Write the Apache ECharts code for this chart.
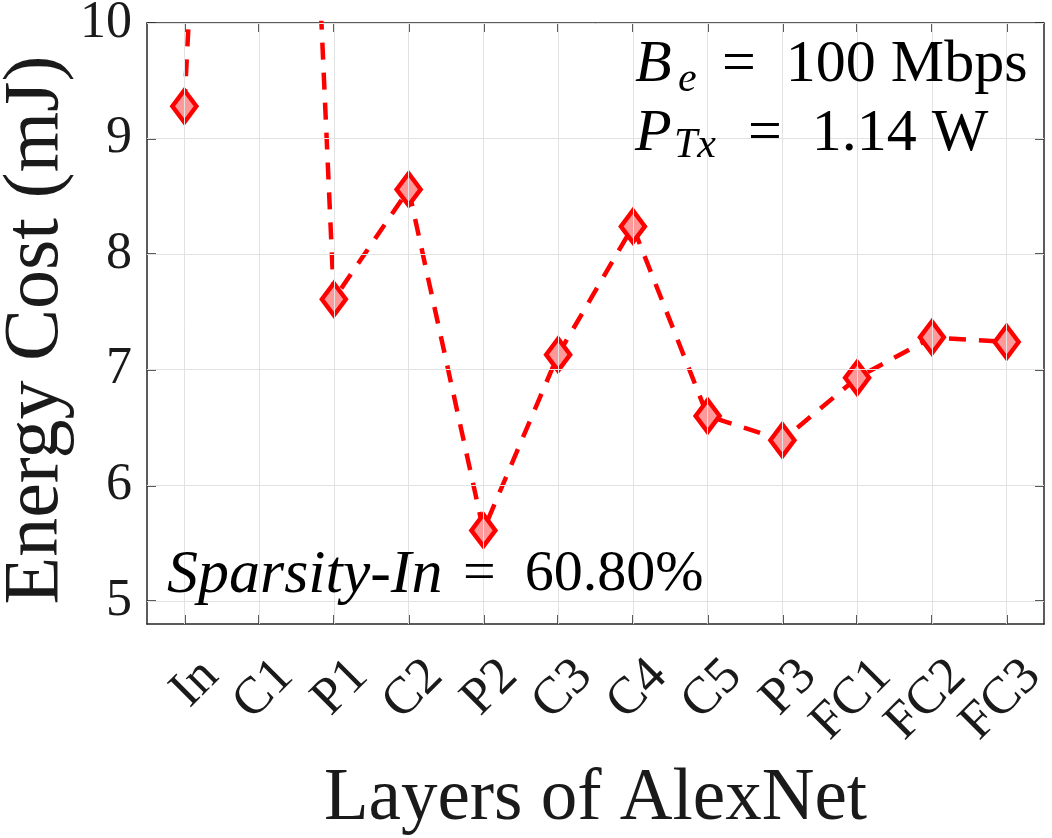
<!DOCTYPE html>
<html>
<head>
<meta charset="utf-8">
<script src="https://cdn.jsdelivr.net/npm/echarts@6/dist/echarts.min.js"></script>
<style>
    html, body { margin: 0; padding: 0; background: #fff; }
    #chart { width: 1052px; height: 838px; }
</style>
</head>
<body>
<div id="chart"></div>
<script>
// data
var layers = ['In', 'C1', 'P1', 'C2', 'P2', 'C3', 'C4', 'C5', 'P3', 'FC1', 'FC2', 'FC3'];
var energy = [9.28, 22.0, 7.61, 8.56, 5.61, 7.13, 8.24, 6.60, 6.39, 6.93, 7.28, 7.24];
var yTicks = [5, 6, 7, 8, 9, 10];

var serif = 'Liberation Serif';
var axisColor = '#262626';
var chart = echarts.init(document.getElementById('chart'));

// grid lines (matlab style: on ticks, category centres)
var gridLines = [];
layers.forEach(function (c) { gridLines.push({ xAxis: c }); });
yTicks.forEach(function (v) { gridLines.push({ yAxis: v }); });

var axisLine = { show: true, lineStyle: { color: axisColor, width: 1.5 } };
var catTick = { show: true, inside: true, alignWithLabel: true, length: 9, lineStyle: { color: axisColor, width: 1.5 } };
var valTick = { show: true, inside: true, length: 9, customValues: yTicks, lineStyle: { color: axisColor, width: 1.5 } };

// annotation texts as title boxes (left/top of the text box)
function txt(x, y, s, size, italic) {
    return {
        text: s, left: x, top: y, padding: 0, itemGap: 0,
        textStyle: {
            fontFamily: serif, fontSize: size, fontWeight: 'normal',
            fontStyle: italic ? 'italic' : 'normal', color: '#000'
        }
    };
}

var option = {
    animation: false,
    title: [
        txt(635, 35, 'B', 60, true),
        txt(678, 59, 'e', 42, true),
        txt(722, 35, '=  100 Mbps', 60, false),
        txt(635, 104, 'P', 60, true),
        txt(674, 125, 'Tx', 42, true),
        txt(748, 104, '=  1.14 W', 60, false),
        txt(167, 545, 'Sparsity-In', 62, true),
        txt(463, 546, '=  60.80%', 58, false)
    ],
    graphic: [
        {
            type: 'text', x: 37, y: 330, rotation: Math.PI / 2,
            style: {
                text: 'Energy Cost (mJ)', fontFamily: serif, fontSize: 78,
                fill: '#1a1a1a', align: 'center', verticalAlign: 'middle'
            }
        }
    ],
    grid: { left: 147, top: 23, right: 8, bottom: 214, outerBoundsMode: 'none', containLabel: false },
    xAxis: [
        {
            type: 'category',
            data: layers,
            boundaryGap: true,
            axisLine: axisLine,
            axisTick: catTick,
            axisLabel: {
                interval: 0, rotate: 45, margin: 18, verticalAlign: 'top', padding: [11, 0, 0, 0],
                fontFamily: serif, fontSize: 52, color: '#1a1a1a'
            },
            splitLine: { show: false },
            name: 'Layers of AlexNet',
            nameLocation: 'middle',
            nameGap: 139,
            nameTextStyle: { fontFamily: serif, fontSize: 73, color: '#1a1a1a' }
        },
        {
            type: 'category',
            data: layers,
            position: 'top',
            boundaryGap: true,
            axisLine: axisLine,
            axisTick: catTick,
            axisLabel: { show: false },
            splitLine: { show: false }
        }
    ],
    yAxis: [
        {
            type: 'value',
            min: 4.8,
            max: 10,
            axisLine: axisLine,
            axisTick: valTick,
            axisLabel: { customValues: yTicks, margin: 15, fontFamily: serif, fontSize: 52, color: '#1a1a1a' },
            splitLine: { show: false }
        },
        {
            type: 'value',
            position: 'right',
            min: 4.8,
            max: 10,
            axisLine: axisLine,
            axisTick: valTick,
            axisLabel: { show: false, customValues: yTicks },
            splitLine: { show: false }
        }
    ],
    series: [
        {
            // only carries the grid lines, drawn under the data line
            type: 'line',
            data: [],
            z: 1,
            markLine: {
                silent: true,
                symbol: 'none',
                label: { show: false },
                lineStyle: { color: '#e2e2e2', width: 1, type: 'solid' },
                data: gridLines
            }
        },
        {
            type: 'line',
            data: energy,
            z: 3,
            symbol: 'diamond',
            symbolSize: [24, 32],
            itemStyle: { color: '#ff9999', borderColor: '#ff0000', borderWidth: 4.5 },
            lineStyle: { color: '#ff0000', width: 4.5, type: [17, 13] },
            clip: true
        }
    ]
};

chart.setOption(option);
</script>
</body>
</html>
